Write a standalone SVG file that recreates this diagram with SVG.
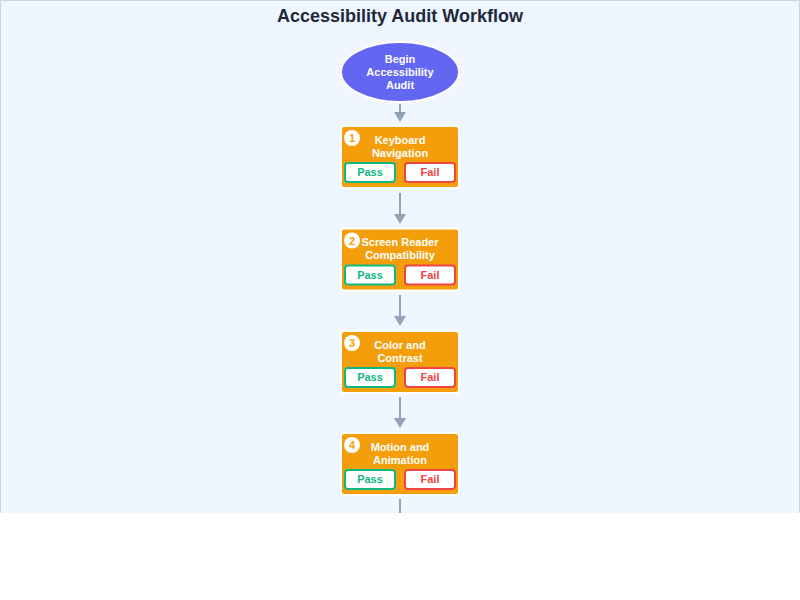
<svg xmlns="http://www.w3.org/2000/svg" width="800" height="600" viewBox="0 0 800 600">
<defs>
<style>
.t{font-family:"Liberation Sans",Arial,Helvetica,sans-serif;font-weight:bold;text-anchor:middle}
.title{font-size:18px;fill:#1e293b}
.lbl{font-size:11px;fill:#ffffff}
.box{fill:#f59e0b;stroke:#ffffff;stroke-width:2}
.num{fill:#ffffff}
.numt{font-size:11px;fill:#f59e0b}
.pass{fill:#ffffff;stroke:#10b981;stroke-width:2}
.fail{fill:#ffffff;stroke:#ef4444;stroke-width:2}
.pt{font-size:11px;fill:#10b981}
.ft{font-size:11px;fill:#ef4444}
.ln{stroke:#94a3b8;stroke-width:2;fill:none}
.hd{fill:#94a3b8}
</style>
</defs>
<rect x="0" y="0" width="800" height="513" fill="#eff6ff"/>
<path d="M0.5,513 V0.5 H799.5 V513" fill="none" stroke="#cbd5e1" stroke-width="1"/>
<text class="t title" x="400" y="22">Accessibility Audit Workflow</text>

<g id="connectors">
<line class="ln" x1="400" y1="104" x2="400" y2="113"/>
<polygon class="hd" points="394,112 406,112 400,122"/>
<line class="ln" x1="400" y1="193" x2="400" y2="215"/>
<polygon class="hd" points="394,214 406,214 400,224"/>
<line class="ln" x1="400" y1="295" x2="400" y2="317"/>
<polygon class="hd" points="394,316 406,316 400,326"/>
<line class="ln" x1="400" y1="397" x2="400" y2="419"/>
<polygon class="hd" points="394,418 406,418 400,428"/>
<line class="ln" x1="400" y1="499" x2="400" y2="513"/>
</g>

<g id="start">
<ellipse cx="400" cy="72" rx="59" ry="30" fill="#6366f1" stroke="#ffffff" stroke-width="2"/>
<text class="t lbl" x="400" y="63">Begin</text>
<text class="t lbl" x="400" y="76">Accessibility</text>
<text class="t lbl" x="400" y="89">Audit</text>
</g>

<g id="step1">
<rect class="box" x="341" y="126" width="118" height="62" rx="3"/>
<circle class="num" cx="352" cy="138" r="8"/>
<text class="t numt" x="352" y="142">1</text>
<text class="t lbl" x="400" y="144">Keyboard</text>
<text class="t lbl" x="400" y="157">Navigation</text>
<rect class="pass" x="345" y="163" width="50" height="19" rx="3"/>
<text class="t pt" x="370" y="176">Pass</text>
<rect class="fail" x="405" y="163" width="50" height="19" rx="3"/>
<text class="t ft" x="430" y="176">Fail</text>
</g>

<g id="step2">
<rect class="box" x="341" y="228.5" width="118" height="62" rx="3"/>
<circle class="num" cx="352" cy="240.5" r="8"/>
<text class="t numt" x="352" y="244.5">2</text>
<text class="t lbl" x="400" y="246">Screen Reader</text>
<text class="t lbl" x="400" y="259">Compatibility</text>
<rect class="pass" x="345" y="265.5" width="50" height="19" rx="3"/>
<text class="t pt" x="370" y="278.5">Pass</text>
<rect class="fail" x="405" y="265.5" width="50" height="19" rx="3"/>
<text class="t ft" x="430" y="278.5">Fail</text>
</g>

<g id="step3">
<rect class="box" x="341" y="331" width="118" height="62" rx="3"/>
<circle class="num" cx="352" cy="343" r="8"/>
<text class="t numt" x="352" y="347">3</text>
<text class="t lbl" x="400" y="348.5">Color and</text>
<text class="t lbl" x="400" y="361.5">Contrast</text>
<rect class="pass" x="345" y="368" width="50" height="19" rx="3"/>
<text class="t pt" x="370" y="381">Pass</text>
<rect class="fail" x="405" y="368" width="50" height="19" rx="3"/>
<text class="t ft" x="430" y="381">Fail</text>
</g>

<g id="step4">
<rect class="box" x="341" y="433" width="118" height="62" rx="3"/>
<circle class="num" cx="352" cy="445" r="8"/>
<text class="t numt" x="352" y="449">4</text>
<text class="t lbl" x="400" y="450.5">Motion and</text>
<text class="t lbl" x="400" y="463.5">Animation</text>
<rect class="pass" x="345" y="470" width="50" height="19" rx="3"/>
<text class="t pt" x="370" y="483">Pass</text>
<rect class="fail" x="405" y="470" width="50" height="19" rx="3"/>
<text class="t ft" x="430" y="483">Fail</text>
</g>
</svg>
